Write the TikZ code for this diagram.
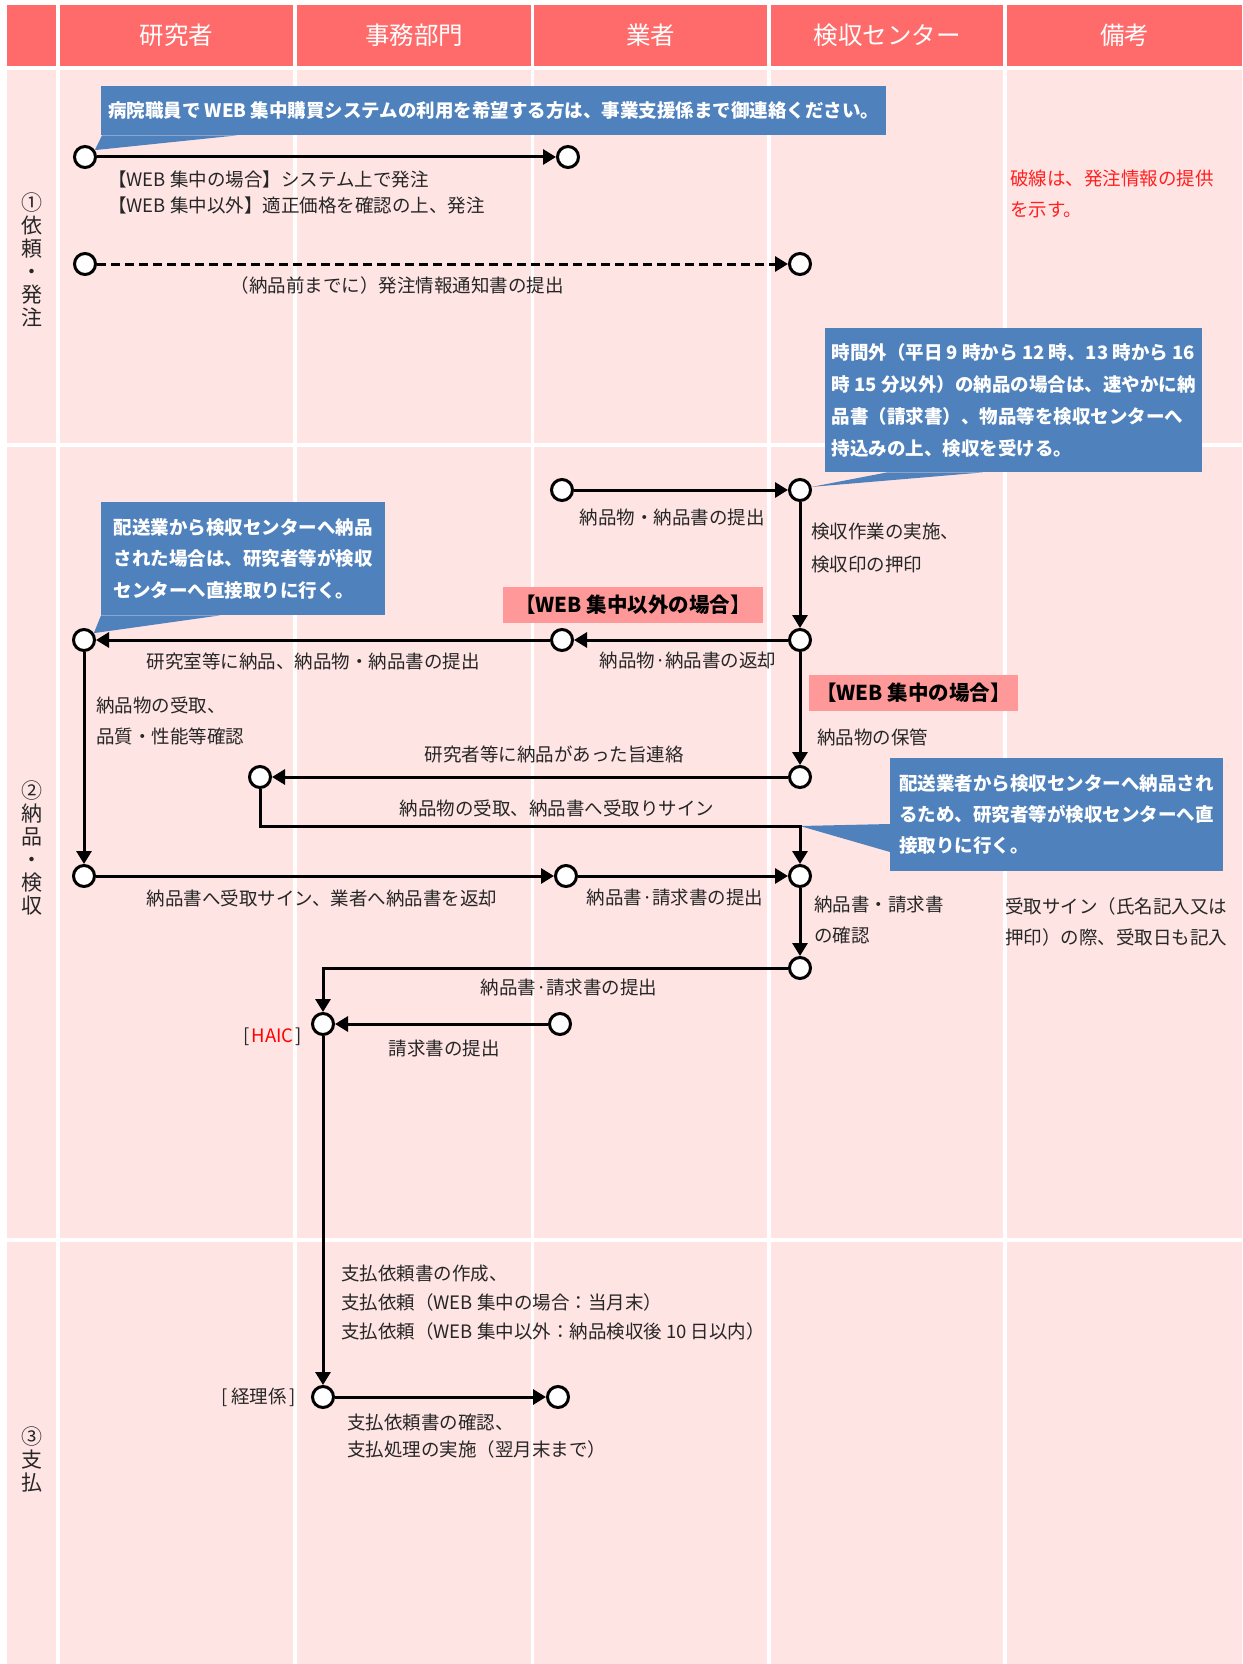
\documentclass[tikz,border=0pt]{standalone}
\usepackage{fontspec}
\setmainfont{Noto Sans CJK JP}
\usetikzlibrary{arrows.meta}
\definecolor{hdr}{HTML}{FF6A6A}
\definecolor{cellpink}{HTML}{FFE4E4}
\definecolor{cblue}{HTML}{4F81BD}
\definecolor{plbl}{HTML}{FF9999}
\definecolor{txt}{HTML}{262626}
\definecolor{notered}{HTML}{FF2020}
\begin{document}
\begin{tikzpicture}[x=1pt,y=-1pt,
  htext/.style={text=white,inner sep=0pt,font=\fontsize{24.5}{27}\selectfont},
  rowtext/.style={text=txt,inner sep=0pt,align=center,font=\fontsize{21}{23}\selectfont},
  pt/.style={circle,draw=black,line width=3pt,fill=white,minimum size=21pt,inner sep=0pt},
  flow/.style={line width=3pt,-{Triangle[length=13pt,width=15pt]}},
  lbl/.style={text=txt,inner sep=0pt,font=\fontsize{18.5}{31}\selectfont},
  note/.style={text=notered,inner sep=0pt,align=left,font=\fontsize{18.5}{31}\selectfont},
  callout/.style={fill=cblue,draw=none,text=white,inner sep=0pt,align=left,anchor=north west,
    font=\bfseries\fontsize{18.5}{31.5}\selectfont},
  pinklabel/.style={fill=plbl,draw=none,text=black,inner sep=0pt,font=\bfseries\fontsize{20.5}{23}\selectfont}
]
\useasboundingbox (0,0) rectangle (1242,1664);
\fill[white] (0,0) rectangle (1242,1664);
% grid cells
\foreach \xa/\xb in {7/56,60/293,297/531,534/767,771/1003,1007/1242}{
  \fill[hdr] (\xa,5) rectangle (\xb,66);
  \foreach \ya/\yb in {70/443,447/1238,1242/1664}
    \fill[cellpink] (\xa,\ya) rectangle (\xb,\yb);
}
% headers
\node[htext] (h1) at (176.5,35.5) {研究者};
\node[htext] (h2) at (414,35.5) {事務部門};
\node[htext] (h3) at (650.5,35.5) {業者};
\node[htext] (h4) at (887,35.5) {検収センター};
\node[htext] (h5) at (1124.5,35.5) {備考};
% row labels
\node[rowtext] (r1) at (32,260) {①\\依\\頼\\・\\発\\注};
\node[rowtext] (r2) at (32,848) {②\\納\\品\\・\\検\\収};
\node[rowtext] (r3) at (32,1459) {③\\支\\払};
% points
\node[pt] (a1) at (85,157) {};
\node[pt] (a2) at (568,157) {};
\node[pt] (a3) at (85,264) {};
\node[pt] (a4) at (800,264) {};
\node[pt] (b1) at (562,490) {};
\node[pt] (b2) at (800,490) {};
\node[pt] (b3) at (800,640) {};
\node[pt] (b4) at (562,640) {};
\node[pt] (b5) at (84,640) {};
\node[pt] (b6) at (800,777) {};
\node[pt] (b7) at (260,777) {};
\node[pt] (b8) at (84,876) {};
\node[pt] (b9) at (566,876) {};
\node[pt] (b10) at (800,876) {};
\node[pt] (b11) at (800,968) {};
\node[pt] (c1) at (323,1024) {};
\node[pt] (c2) at (560,1024) {};
\node[pt] (d1) at (323,1397) {};
\node[pt] (d2) at (558,1397) {};
\coordinate (k1) at (800,826);
% callouts
\node[callout,minimum width=785pt,minimum height=49pt] (cb1) at (101,86)
  {病院職員で WEB 集中購買システムの利用を希望する方は、事業支援係まで御連絡ください。};
\fill[cblue] ([xshift=1pt]cb1.south west) -- (a1.35) -- ([xshift=136pt]cb1.south west) -- cycle;
\node[callout,minimum width=377pt,minimum height=144pt,font=\bfseries\fontsize{18.5}{32}\selectfont] (cb2) at (825,328)
  {時間外（平日 9 時から 12 時、13 時から 16\\時 15 分以外）の納品の場合は、速やかに納\\品書（請求書）、物品等を検収センターへ\\持込みの上、検収を受ける。};
\fill[cblue] ([xshift=62pt]cb2.south west) -- (b2.15) -- ([xshift=158pt]cb2.south west) -- cycle;
\node[callout,minimum width=284pt,minimum height=113pt] (cb3) at (101,502)
  {配送業から検収センターへ納品\\された場合は、研究者等が検収\\センターへ直接取りに行く。};
\fill[cblue] ([xshift=0pt]cb3.south west) -- (b5.35) -- ([xshift=119pt]cb3.south west) -- cycle;
\node[callout,minimum width=333pt,minimum height=113pt,font=\bfseries\fontsize{18.5}{31}\selectfont] (cb4) at (890,758)
  {配送業者から検収センターへ納品され\\るため、研究者等が検収センターへ直\\接取りに行く。};
\fill[cblue] ([yshift=-66pt]cb4.north west) -- (k1) -- ([yshift=-94pt]cb4.north west) -- cycle;
% pink labels
\node[pinklabel,minimum width=260pt,minimum height=36pt] (pl1) at (633,605) {【WEB 集中以外の場合】};
\node[pinklabel,minimum width=209pt,minimum height=36pt] (pl2) at (913.5,693) {【WEB 集中の場合】};
% texts
\node[lbl,anchor=north west,align=left,font=\fontsize{18.5}{26}\selectfont] (t1) at (108,170.5)
  {【WEB 集中の場合】システム上で発注\\【WEB 集中以外】適正価格を確認の上、発注};
\node[lbl] (t2) at (397,285) {（納品前までに）発注情報通知書の提出};
\node[note,anchor=north west] (n1) at (1010,169.5) {破線は、発注情報の提供\\を示す。};
\node[lbl] (t3) at (672,517) {納品物・納品書の提出};
\node[lbl,anchor=north west,align=left,font=\fontsize{18.5}{33}\selectfont] (t4) at (811,522.5) {検収作業の実施、\\検収印の押印};
\node[lbl] (t5) at (688,660) {納品物·納品書の返却};
\node[lbl] (t6) at (313,661) {研究室等に納品、納品物・納品書の提出};
\node[lbl,anchor=north west,align=left] (t7) at (96,696.5) {納品物の受取、\\品質・性能等確認};
\node[lbl,anchor=west] (t8) at (817,737) {納品物の保管};
\node[lbl] (t9) at (554,754) {研究者等に納品があった旨連絡};
\node[lbl] (t10) at (557,808) {納品物の受取、納品書へ受取りサイン};
\node[lbl] (t11) at (322,898) {納品書へ受取サイン、業者へ納品書を返却};
\node[lbl] (t12) at (675,897) {納品書·請求書の提出};
\node[lbl,anchor=north west,align=left] (t13) at (814,895.5) {納品書・請求書\\の確認};
\node[lbl,anchor=north west,align=left] (n2) at (1005,897.5) {受取サイン（氏名記入又は\\押印）の際、受取日も記入};
\node[lbl] (t14) at (569,987) {納品書·請求書の提出};
\node[lbl] (t15) at (444,1048) {請求書の提出};
\node[lbl,anchor=east] (t16) at (302,1037) {[\kern2pt\textcolor{red}{HAIC}\kern2pt]};
\node[lbl,anchor=north west,align=left,font=\fontsize{18.5}{29}\selectfont] (t17) at (341,1264.5)
  {支払依頼書の作成、\\支払依頼（WEB 集中の場合：当月末）\\支払依頼（WEB 集中以外：納品検収後 10 日以内）};
\node[lbl,anchor=east] (t18) at (296,1397) {[\kern3pt経理係\kern3pt]};
\node[lbl,anchor=north west,align=left,font=\fontsize{18.5}{27}\selectfont] (t19) at (347,1413.5)
  {支払依頼書の確認、\\支払処理の実施（翌月末まで）};
% connectors
\draw[flow] (a1) -- (a2);
\draw[flow,dash pattern=on 9pt off 5pt] (a3) -- (a4);
\draw[flow] (b1) -- (b2);
\draw[flow] (b2) -- (b3);
\draw[flow] (b3) -- (b4);
\draw[flow] (b4) -- (b5);
\draw[flow] (b5) -- (b8);
\draw[flow] (b3) -- (b6);
\draw[flow] (b6) -- (b7);
\draw[flow] (b7) |- (k1) -- (b10);
\draw[flow] (b8) -- (b9);
\draw[flow] (b9) -- (b10);
\draw[flow] (b10) -- (b11);
\draw[flow] (b11) -| (c1);
\draw[flow] (c2) -- (c1);
\draw[flow] (c1) -- (d1);
\draw[flow] (d1) -- (d2);
\end{tikzpicture}
\end{document}
